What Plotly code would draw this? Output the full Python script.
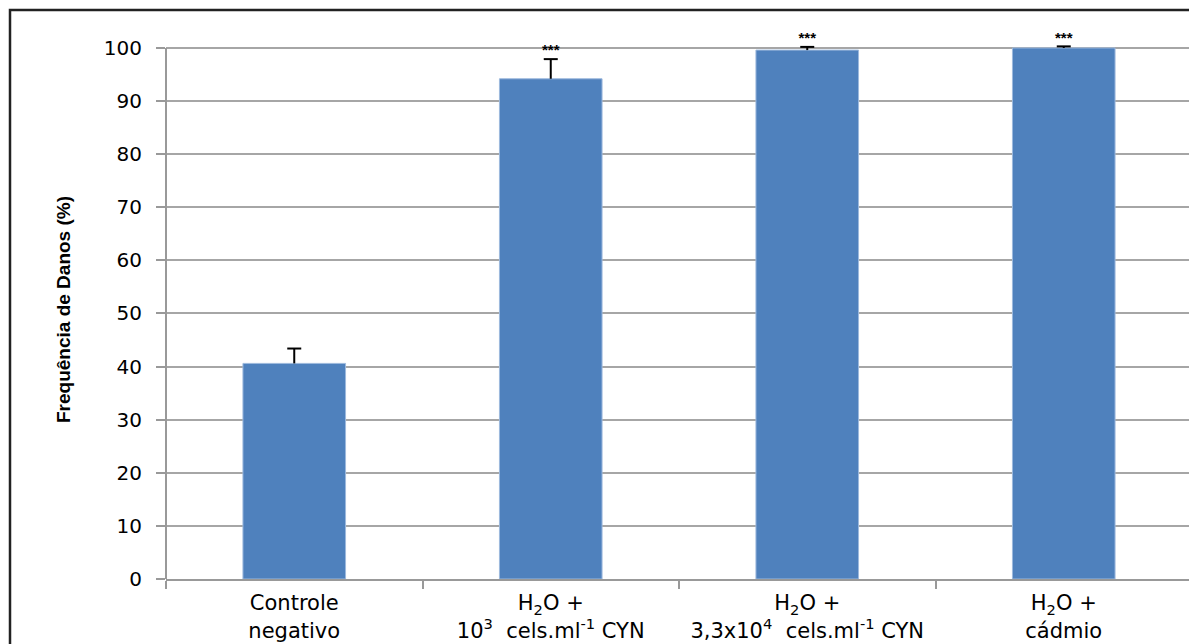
import plotly.graph_objects as go

categories = [
    "Controle<br>negativo",
    "H<sub>2</sub>O +<br>10<sup>3</sup>\u00a0 cels.ml<sup>-1</sup> CYN",
    "H<sub>2</sub>O +<br>3,3x10<sup>4</sup>\u00a0 cels.ml<sup>-1</sup> CYN",
    "H<sub>2</sub>O +<br>cádmio",
]
values = [40.6, 94.2, 99.6, 100.0]
errors = [2.8, 3.7, 0.6, 0.3]
significance = ["", "***", "***", "***"]
y_ticks = [0, 10, 20, 30, 40, 50, 60, 70, 80, 90, 100]

wide = "DejaVu Sans, Verdana, sans-serif"
Y_TOP = 101.5  # a little headroom so the marks above 100 stay visible

# page body has an 8px margin, so layout coordinates are offset by 8px
fig = go.Figure()
fig.add_trace(go.Bar(
    x=categories,
    y=values,
    width=0.4,
    marker=dict(color="#4F81BD", line=dict(color="#9DB9DD", width=1)),
    showlegend=False,
    hoverinfo="skip",
))

# one-sided error bars (stem + top cap only)
ex, ey = [], []
for c, v, e in zip(categories, values, errors):
    ex += [c, c, None]
    ey += [v, v + e, None]
tops = [v + e for v, e in zip(values, errors)]
fig.add_trace(go.Scatter(
    x=ex, y=ey, mode="lines", line=dict(color="#000000", width=2),
    showlegend=False, hoverinfo="skip", cliponaxis=False,
))
fig.add_trace(go.Scatter(
    x=categories, y=tops, mode="markers",
    marker=dict(symbol="line-ew-open", size=10, color="#000000",
                line=dict(color="#000000", width=2)),
    showlegend=False, hoverinfo="skip", cliponaxis=False,
))
fig.add_trace(go.Scatter(
    x=categories, y=tops, mode="text",
    text=["<b>" + s + "</b>" if s else "" for s in significance],
    textposition="top center",
    textfont=dict(family="Liberation Sans, Arial", size=15, color="#000000"),
    showlegend=False, hoverinfo="skip", cliponaxis=False,
))

fig.update_layout(
    width=1189, height=636,
    margin=dict(l=158, r=5, t=32, b=65, autoexpand=False),
    paper_bgcolor="white", plot_bgcolor="white",
    xaxis=dict(
        automargin=False,
        showline=True, linecolor="#999999", linewidth=2,
        ticks="outside", tickson="boundaries", ticklen=8, tickcolor="#999999", tickwidth=2,
        tickfont=dict(family=wide, size=21, color="#000000"),
        ticklabelstandoff=4,
        showgrid=False,
    ),
    yaxis=dict(
        automargin=False,
        range=[0, Y_TOP], tickvals=y_ticks,
        showline=False,
        ticks="outside", ticklen=9, tickcolor="#999999", tickwidth=2,
        ticklabelstandoff=10,
        showgrid=True, gridcolor="#A6A6A6", gridwidth=2,
        zeroline=False,
        tickfont=dict(family=wide, size=20, color="#000000"),
        title=dict(text="<b>Frequência de Danos (%)</b>",
                   font=dict(family="Liberation Sans, Arial", size=19, color="#000000"),
                   standoff=28),
    ),
    shapes=[
        dict(type="line", xref="paper", yref="y", x0=0, x1=0,
             y0=y_ticks[0], y1=y_ticks[-1], line=dict(color="#999999", width=2)),
        dict(type="rect", xref="paper", yref="paper",
             x0=(2 - 158) / 1026, x1=1.1, y0=-0.3, y1=1 + (32 - 2) / 539,
             line=dict(color="#222222", width=2.5), layer="below"),
    ],
)

fig.write_html("out.html")
